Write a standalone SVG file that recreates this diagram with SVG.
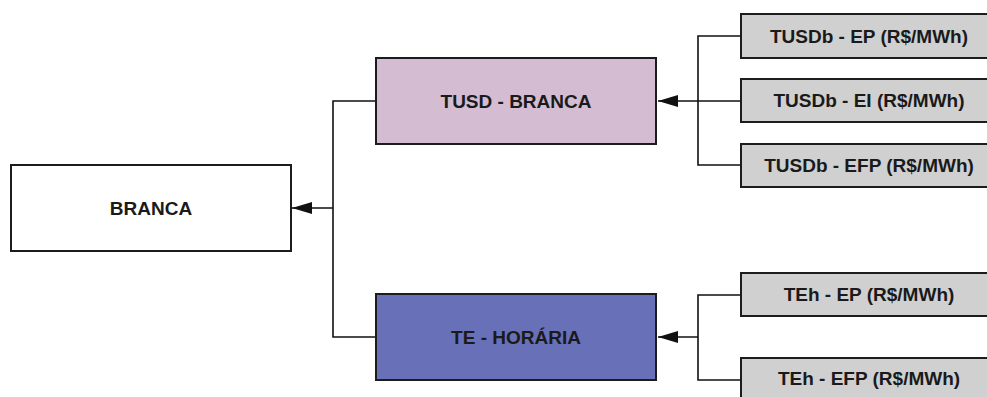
<svg xmlns="http://www.w3.org/2000/svg" width="987" height="397" viewBox="0 0 987 397">
  <style>
    .box { stroke: #1c1c1c; stroke-width: 2; }
    .root { fill: #ffffff; }
    .tusd { fill: #d4bdd3; }
    .te { fill: #6870b8; }
    .leaf { fill: #d0d0d0; }
    .lbl { font-family: "Liberation Sans", Arial, sans-serif; font-weight: bold; font-size: 19px; fill: #1a1a1a; text-anchor: middle; dominant-baseline: central; }
    .wire { fill: none; stroke: #111111; stroke-width: 1.6; }
  </style>
  <defs>
    <marker id="arrow" viewBox="0 0 20 12" refX="20" refY="6" markerWidth="20" markerHeight="12" markerUnits="userSpaceOnUse" orient="auto">
      <path d="M0,0 L20,6 L0,12 Z" fill="#111111"/>
    </marker>
  </defs>

  <!-- connectors -->
  <g id="connectors">
    <!-- TUSD / TE branches into BRANCA -->
    <path class="wire" d="M376,101 H333 V337 H376"/>
    <path class="wire" d="M333,208 H292" marker-end="url(#arrow)"/>
    <!-- TUSDb leaves into TUSD - BRANCA -->
    <path class="wire" d="M741,36 H698 V165 H741"/>
    <path class="wire" d="M741,101 H658" marker-end="url(#arrow)"/>
    <!-- TEh leaves into TE - HORÁRIA -->
    <path class="wire" d="M741,295 H698 V380 H741"/>
    <path class="wire" d="M698,337 H658" marker-end="url(#arrow)"/>
  </g>

  <g id="branca">
    <rect class="box root" x="11" y="165" width="280" height="86"/>
    <text class="lbl" x="151" y="208">BRANCA</text>
  </g>

  <g id="tusd-branca">
    <rect class="box tusd" x="376" y="58" width="280" height="86"/>
    <text class="lbl" x="516" y="101">TUSD - BRANCA</text>
  </g>

  <g id="te-horaria">
    <rect class="box te" x="376" y="294" width="280" height="86"/>
    <text class="lbl" x="516" y="337">TE - HORÁRIA</text>
  </g>

  <g id="tusdb-ep">
    <rect class="box leaf" x="741" y="14" width="256" height="44"/>
    <text class="lbl" x="869" y="36">TUSDb - EP (R$/MWh)</text>
  </g>

  <g id="tusdb-ei">
    <rect class="box leaf" x="741" y="79" width="256" height="43"/>
    <text class="lbl" x="869" y="100.5">TUSDb - EI (R$/MWh)</text>
  </g>

  <g id="tusdb-efp">
    <rect class="box leaf" x="741" y="144" width="256" height="43"/>
    <text class="lbl" x="869" y="165.5">TUSDb - EFP (R$/MWh)</text>
  </g>

  <g id="teh-ep">
    <rect class="box leaf" x="741" y="273" width="256" height="43"/>
    <text class="lbl" x="869" y="294.5">TEh - EP (R$/MWh)</text>
  </g>

  <g id="teh-efp">
    <rect class="box leaf" x="741" y="358" width="256" height="43"/>
    <text class="lbl" x="869" y="378">TEh - EFP (R$/MWh)</text>
  </g>
</svg>
